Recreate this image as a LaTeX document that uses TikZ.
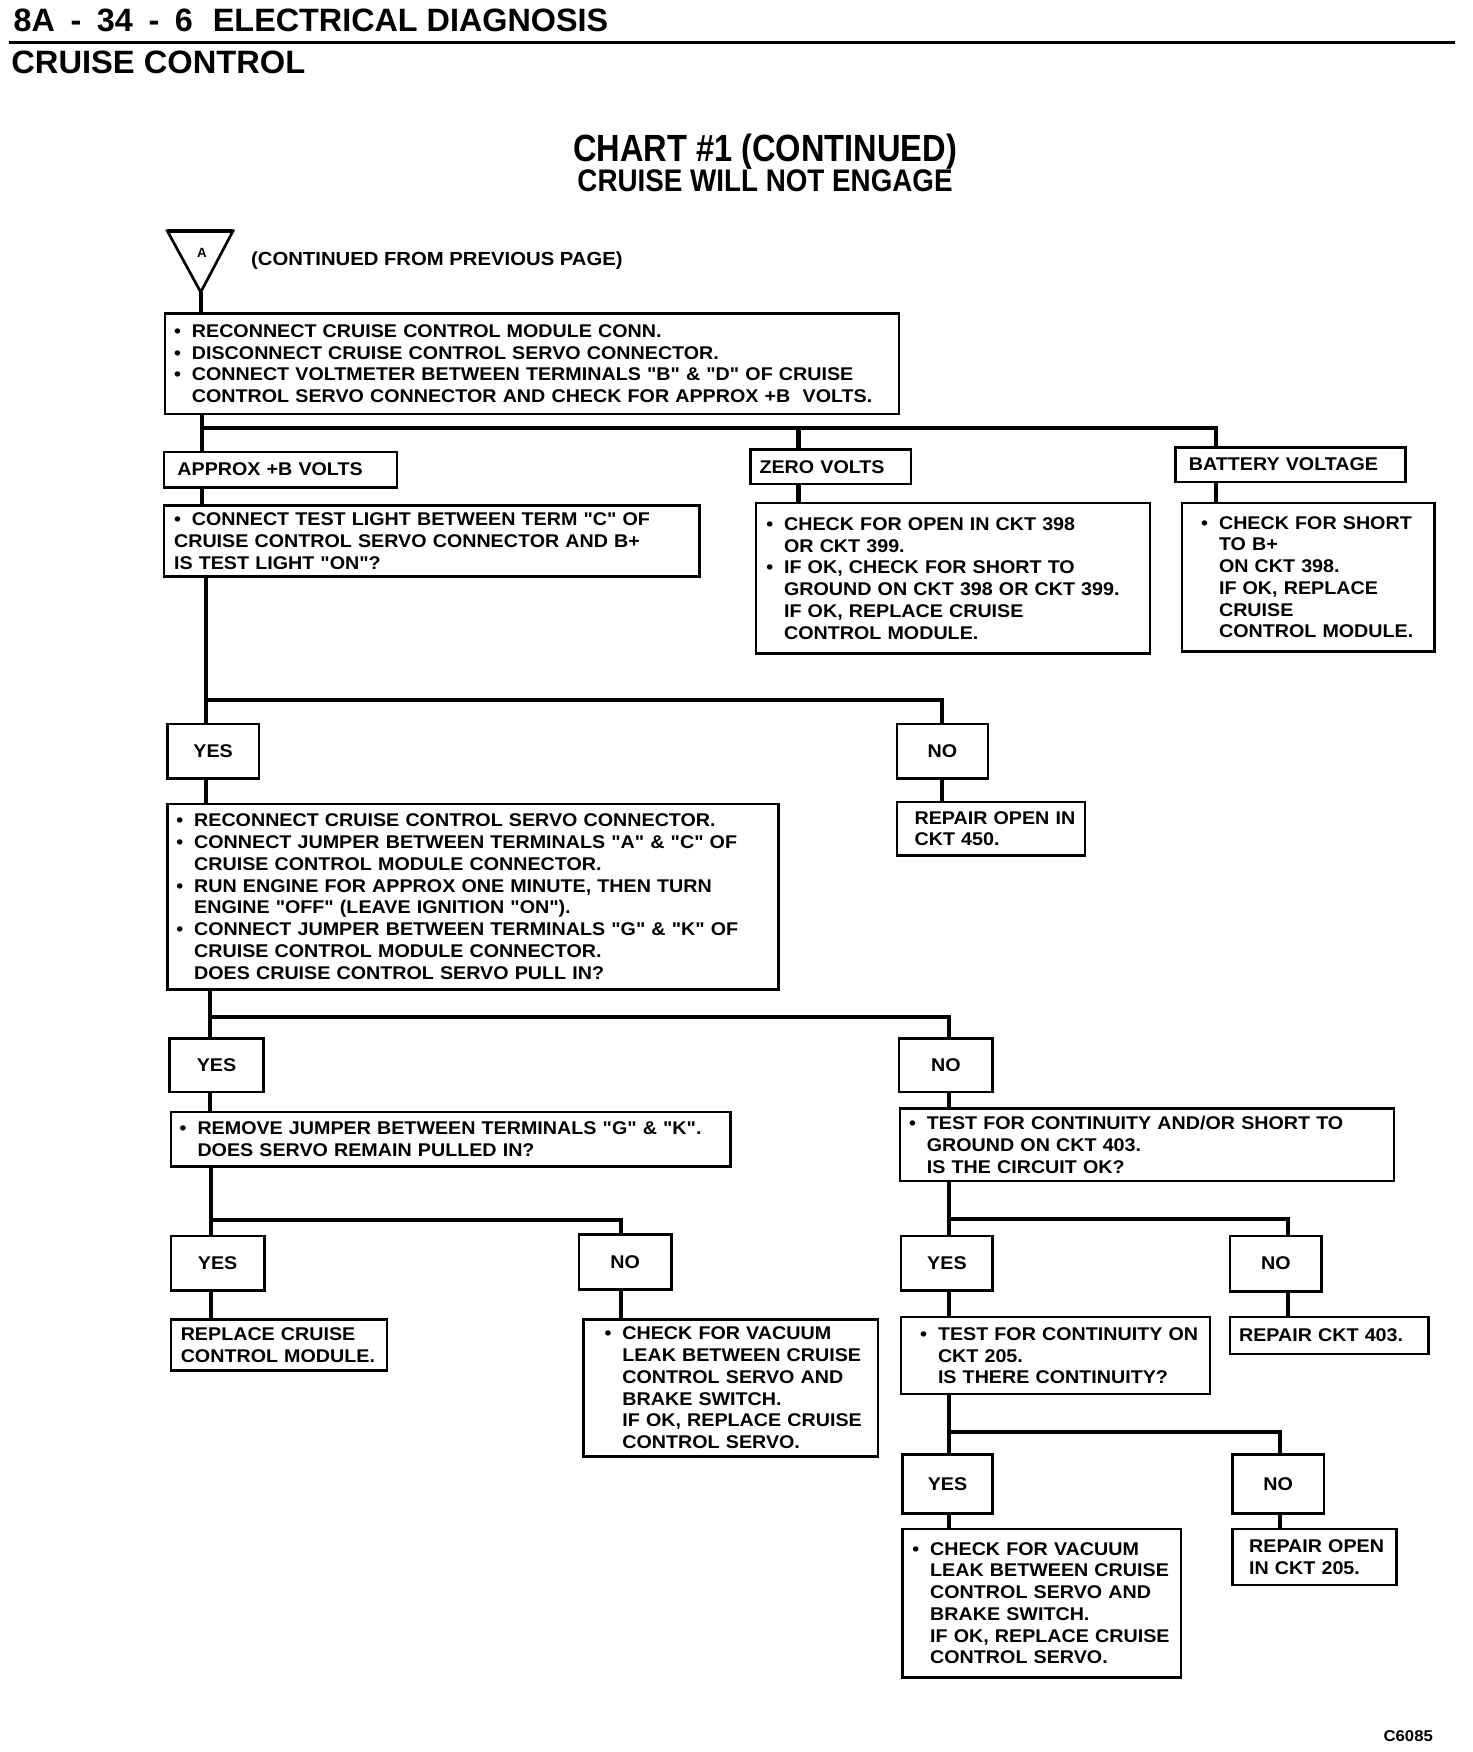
\documentclass[tikz,border=0pt]{standalone}
\usepackage{fontspec}
\setmainfont{Liberation Sans}
\newfontfamily\bxfont[FakeStretch=1.07]{Liberation Sans}
\newfontfamily\hdfont[FakeStretch=1.0]{Liberation Sans}
\newfontfamily\ttlfont[FakeStretch=0.86]{Liberation Sans}
\newfontfamily\ttlbfont[FakeStretch=0.89]{Liberation Sans}
\newfontfamily\subfont[FakeStretch=1.01]{Liberation Sans}
\newcommand\bl{\makebox[16pt][l]{\textbullet}}
\newcommand\ind{\hspace*{16pt}}
\newcommand\bx[7]{\node[box,minimum width=#4pt,minimum height=#5pt,inner xsep=0pt,text width=#4pt] (#1) at (#2,#3) {\leftskip=#6pt\relax #7\par};}
\newcommand\yn[6]{\node[ynbox,minimum width=#4pt,minimum height=#5pt] (#1) at (#2,#3) {#6};}
\tikzset{
  bfnt/.style={font=\bxfont\bfseries\fontsize{16.5}{19.5}\selectfont},
  box/.style={draw, line width=2.2pt, anchor=north west, align=left, inner ysep=0pt, bfnt},
  ynbox/.style={draw, line width=2.2pt, anchor=north west, align=center, inner sep=0pt, bfnt},
  conn/.style={line width=3.6pt, line join=miter},
}
\begin{document}
\begin{tikzpicture}[x=1pt,y=-1pt]
\fill[white] (0,0) rectangle (1320,1571);
\useasboundingbox (0,0) rectangle (1320,1571);
% header
\node[anchor=base west, inner sep=0pt, font=\hdfont\bfseries\fontsize{29}{32}\selectfont] (hdr) at (12,28) {8A\hspace{14pt}-\hspace{14pt}34\hspace{14pt}-\hspace{14pt}6\hspace{18pt}ELECTRICAL DIAGNOSIS};
\coordinate (hl1) at (8,38); \coordinate (hl2) at (1305,38);
\draw[line width=3pt] (hl1) -- (hl2);
\node[anchor=base west, inner sep=0pt, font=\subfont\bfseries\fontsize{29}{32}\selectfont] (sub) at (10,66) {CRUISE CONTROL};
\node[anchor=base, inner sep=0pt, font=\ttlfont\bfseries\fontsize{34}{38}\selectfont] (t1) at (686,145) {CHART \#1 (CONTINUED)};
\node[anchor=base, inner sep=0pt, font=\ttlbfont\bfseries\fontsize{28}{32}\selectfont] (t2) at (686,172) {CRUISE WILL NOT ENGAGE};
% triangle
\coordinate (tL) at (150,207); \coordinate (tR) at (209,207); \coordinate (tA) at (180,262);
\draw[line width=2.4pt, line join=miter] (tL) -- (tR) -- (tA) -- cycle;
\draw[line width=4pt] (tL) -- (tR);
\node[inner sep=0pt, font=\bfseries\fontsize{12}{14}\selectfont] (triA) at (181,227) {A};
\node[anchor=base west, inner sep=0pt, font=\bxfont\bfseries\fontsize{17}{19}\selectfont] (cont) at (225,238) {(CONTINUED FROM PREVIOUS PAGE)};
% boxes
\bx{b1}{147}{280}{658}{90}{8}{\bl RECONNECT CRUISE CONTROL MODULE CONN.\\ \bl DISCONNECT CRUISE CONTROL SERVO CONNECTOR.\\ \bl CONNECT VOLTMETER BETWEEN TERMINALS "B" \& "D" OF CRUISE\\ \ind CONTROL SERVO CONNECTOR AND CHECK FOR APPROX +B\ \ VOLTS.}
\bx{ap}{146}{404}{209}{32}{12}{APPROX +B VOLTS}
\bx{zv}{672}{402}{144}{31}{8}{ZERO VOLTS}
\bx{bv}{1053}{400}{206}{31}{12}{BATTERY VOLTAGE}
\bx{tl}{146}{452}{480}{64}{9}{\bl CONNECT TEST LIGHT BETWEEN TERM "C" OF\\ CRUISE CONTROL SERVO CONNECTOR AND B+\\ IS TEST LIGHT "ON"?}
\bx{zb}{677}{450}{353}{135}{9}{\bl CHECK FOR OPEN IN CKT 398\\ \ind OR CKT 399.\\ \bl IF OK, CHECK FOR SHORT TO\\ \ind GROUND ON CKT 398 OR CKT 399.\\ \ind IF OK, REPLACE CRUISE\\ \ind CONTROL MODULE.}
\bx{bb}{1059}{450}{226}{133}{17}{\bl CHECK FOR SHORT\\ \ind TO B+\\ \ind ON CKT 398.\\ \ind IF OK, REPLACE\\ \ind CRUISE\\ \ind CONTROL MODULE.}
\yn{y1}{149}{648}{82}{49}{YES}
\yn{n1}{803}{648}{82}{49}{NO}
\bx{bg}{149}{720}{548}{166}{8}{\bl RECONNECT CRUISE CONTROL SERVO CONNECTOR.\\ \bl CONNECT JUMPER BETWEEN TERMINALS "A" \& "C" OF\\ \ind CRUISE CONTROL MODULE CONNECTOR.\\ \bl RUN ENGINE FOR APPROX ONE MINUTE, THEN TURN\\ \ind ENGINE "OFF" (LEAVE IGNITION "ON").\\ \bl CONNECT JUMPER BETWEEN TERMINALS "G" \& "K" OF\\ \ind CRUISE CONTROL MODULE CONNECTOR.\\ \ind DOES CRUISE CONTROL SERVO PULL IN?}
\bx{r450}{803}{718}{169}{48}{16}{REPAIR OPEN IN\\ CKT 450.}
\yn{y2}{151}{930}{84}{48}{YES}
\yn{n2}{805}{930}{84}{48}{NO}
\bx{rj}{152}{996}{502}{49}{8}{\bl REMOVE JUMPER BETWEEN TERMINALS "G" \& "K".\\ \ind DOES SERVO REMAIN PULLED IN?}
\bx{tc}{806}{993}{443}{65}{8}{\bl TEST FOR CONTINUITY AND/OR SHORT TO\\ \ind GROUND ON CKT 403.\\ \ind IS THE CIRCUIT OK?}
\yn{y3}{152}{1107}{84}{49}{YES}
\yn{n3}{518}{1106}{83}{49}{NO}
\bx{rc}{152}{1182}{194}{46}{9}{REPLACE CRUISE\\ CONTROL MODULE.}
\bx{cv1}{522}{1182}{264}{123}{19}{\bl CHECK FOR VACUUM\\ \ind LEAK BETWEEN CRUISE\\ \ind CONTROL SERVO AND\\ \ind BRAKE SWITCH.\\ \ind IF OK, REPLACE CRUISE\\ \ind CONTROL SERVO.}
\yn{y4}{807}{1107}{82}{49}{YES}
\yn{n4}{1102}{1107}{82}{50}{NO}
\bx{tco}{807}{1180}{277}{69}{17}{\bl TEST FOR CONTINUITY ON\\ \ind CKT 205.\\ \ind IS THERE CONTINUITY?}
\bx{r403}{1102}{1180}{178}{33}{8}{REPAIR CKT 403.}
\yn{y5}{808}{1303}{81}{53}{YES}
\yn{n5}{1104}{1303}{82}{53}{NO}
\bx{cv2}{808}{1370}{250}{133}{9}{\bl CHECK FOR VACUUM\\ \ind LEAK BETWEEN CRUISE\\ \ind CONTROL SERVO AND\\ \ind BRAKE SWITCH.\\ \ind IF OK, REPLACE CRUISE\\ \ind CONTROL SERVO.}
\bx{ro}{1104}{1370}{147}{50}{15}{REPAIR OPEN\\ IN CKT 205.}
\node[anchor=base east, inner sep=0pt, font=\bxfont\bfseries\fontsize{14}{16}\selectfont] (fig) at (1285,1562) {C6085};
% connectors
\draw[conn] (tA) -- (b1.north -| tA);
\coordinate (j1) at (181,384); \coordinate (j1b) at (716,384); \coordinate (j1c) at (1090,384);
\draw[conn] (b1.south -| j1) -- (j1) -- (ap.north -| j1);
\draw[conn] (j1) -- (j1c) -- (bv.north -| j1c);
\draw[conn] (j1b) -- (zv.north -| j1b);
\draw[conn] (ap.south -| j1) -- (tl.north -| j1);
\draw[conn] (zv.south -| j1b) -- (zb.north -| j1b);
\draw[conn] (bv.south -| j1c) -- (bb.north -| j1c);
\coordinate (j2) at (185,628); \coordinate (j2b) at (845,628);
\draw[conn] (tl.south -| j2) -- (j2) -- (y1.north -| j2);
\draw[conn] (j2) -- (j2b) -- (n1.north -| j2b);
\draw[conn] (y1.south -| j2) -- (bg.north -| j2);
\draw[conn] (n1.south -| j2b) -- (r450.north -| j2b);
\coordinate (j3) at (188,912); \coordinate (j3b) at (851,912);
\draw[conn] (bg.south -| j3) -- (j3) -- (y2.north -| j3);
\draw[conn] (j3) -- (j3b) -- (n2.north -| j3b);
\draw[conn] (y2.south -| j3) -- (rj.north -| j3);
\draw[conn] (n2.south -| j3b) -- (tc.north -| j3b);
\coordinate (j4) at (189,1094); \coordinate (j4b) at (557,1094);
\draw[conn] (rj.south -| j4) -- (j4) -- (y3.north -| j4);
\draw[conn] (j4) -- (j4b) -- (n3.north -| j4b);
\draw[conn] (y3.south -| j4) -- (rc.north -| j4);
\draw[conn] (n3.south -| j4b) -- (cv1.north -| j4b);
\coordinate (j5) at (851,1093); \coordinate (j5b) at (1155,1093);
\draw[conn] (tc.south -| j5) -- (j5) -- (y4.north -| j5);
\draw[conn] (j5) -- (j5b) -- (n4.north -| j5b);
\draw[conn] (y4.south -| j5) -- (tco.north -| j5);
\draw[conn] (n4.south -| j5b) -- (r403.north -| j5b);
\coordinate (j6) at (851,1284); \coordinate (j6b) at (1148,1284);
\draw[conn] (tco.south -| j6) -- (j6) -- (y5.north -| j6);
\draw[conn] (j6) -- (j6b) -- (n5.north -| j6b);
\draw[conn] (y5.south -| j6) -- (cv2.north -| j6);
\draw[conn] (n5.south -| j6b) -- (ro.north -| j6b);
\end{tikzpicture}
\end{document}
